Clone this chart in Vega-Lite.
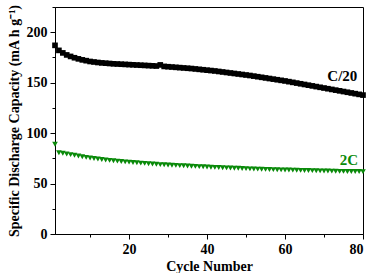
{
  "$schema": "https://vega.github.io/schema/vega-lite/v6.json",
  "width": 308,
  "height": 227,
  "autosize": "none",
  "padding": {"left": 55, "top": 7, "right": 11, "bottom": 39},
  "background": "white",
  "config": {
    "view": {"stroke": "black", "strokeWidth": 1},
    "font": "Liberation Serif",
    "axis": {
      "domainColor": "black",
      "tickColor": "black",
      "labelColor": "black",
      "titleColor": "black",
      "labelFont": "Liberation Serif",
      "titleFont": "Liberation Serif",
      "labelFontWeight": "bold",
      "titleFontWeight": "bold",
      "labelFontSize": 14,
      "titleFontSize": 14,
      "grid": false
    }
  },
  "datasets": {
    "capacity": [
      {"series": "C/20", "cycle": 1, "capacity": 187}, {"series": "C/20", "cycle": 2, "capacity": 182}, {"series": "C/20", "cycle": 3, "capacity": 179.5}, {"series": "C/20", "cycle": 4, "capacity": 177.5}, {"series": "C/20", "cycle": 5, "capacity": 176},
      {"series": "C/20", "cycle": 6, "capacity": 174.7}, {"series": "C/20", "cycle": 7, "capacity": 173.6}, {"series": "C/20", "cycle": 8, "capacity": 172.6}, {"series": "C/20", "cycle": 9, "capacity": 171.8}, {"series": "C/20", "cycle": 10, "capacity": 171},
      {"series": "C/20", "cycle": 11, "capacity": 170.5}, {"series": "C/20", "cycle": 12, "capacity": 170}, {"series": "C/20", "cycle": 13, "capacity": 169.6}, {"series": "C/20", "cycle": 14, "capacity": 169.3}, {"series": "C/20", "cycle": 15, "capacity": 169},
      {"series": "C/20", "cycle": 16, "capacity": 168.7}, {"series": "C/20", "cycle": 17, "capacity": 168.5}, {"series": "C/20", "cycle": 18, "capacity": 168.3}, {"series": "C/20", "cycle": 19, "capacity": 168.1}, {"series": "C/20", "cycle": 20, "capacity": 167.9},
      {"series": "C/20", "cycle": 21, "capacity": 167.7}, {"series": "C/20", "cycle": 22, "capacity": 167.5}, {"series": "C/20", "cycle": 23, "capacity": 167.3}, {"series": "C/20", "cycle": 24, "capacity": 167.1}, {"series": "C/20", "cycle": 25, "capacity": 166.9},
      {"series": "C/20", "cycle": 26, "capacity": 166.7}, {"series": "C/20", "cycle": 27, "capacity": 166.5}, {"series": "C/20", "cycle": 28, "capacity": 167.6}, {"series": "C/20", "cycle": 29, "capacity": 166.1}, {"series": "C/20", "cycle": 30, "capacity": 165.8},
      {"series": "C/20", "cycle": 31, "capacity": 165.5}, {"series": "C/20", "cycle": 32, "capacity": 165.2}, {"series": "C/20", "cycle": 33, "capacity": 164.9}, {"series": "C/20", "cycle": 34, "capacity": 164.6}, {"series": "C/20", "cycle": 35, "capacity": 164.3},
      {"series": "C/20", "cycle": 36, "capacity": 164}, {"series": "C/20", "cycle": 37, "capacity": 163.6}, {"series": "C/20", "cycle": 38, "capacity": 163.2}, {"series": "C/20", "cycle": 39, "capacity": 162.8}, {"series": "C/20", "cycle": 40, "capacity": 162.4},
      {"series": "C/20", "cycle": 41, "capacity": 162}, {"series": "C/20", "cycle": 42, "capacity": 161.6}, {"series": "C/20", "cycle": 43, "capacity": 161.1}, {"series": "C/20", "cycle": 44, "capacity": 160.6}, {"series": "C/20", "cycle": 45, "capacity": 160.1},
      {"series": "C/20", "cycle": 46, "capacity": 159.6}, {"series": "C/20", "cycle": 47, "capacity": 159.1}, {"series": "C/20", "cycle": 48, "capacity": 158.6}, {"series": "C/20", "cycle": 49, "capacity": 158.1}, {"series": "C/20", "cycle": 50, "capacity": 157.6},
      {"series": "C/20", "cycle": 51, "capacity": 157.1}, {"series": "C/20", "cycle": 52, "capacity": 156.5}, {"series": "C/20", "cycle": 53, "capacity": 155.9}, {"series": "C/20", "cycle": 54, "capacity": 155.3}, {"series": "C/20", "cycle": 55, "capacity": 154.7},
      {"series": "C/20", "cycle": 56, "capacity": 154.1}, {"series": "C/20", "cycle": 57, "capacity": 153.5}, {"series": "C/20", "cycle": 58, "capacity": 152.9}, {"series": "C/20", "cycle": 59, "capacity": 152.3}, {"series": "C/20", "cycle": 60, "capacity": 151.7},
      {"series": "C/20", "cycle": 61, "capacity": 151}, {"series": "C/20", "cycle": 62, "capacity": 150.3}, {"series": "C/20", "cycle": 63, "capacity": 149.6}, {"series": "C/20", "cycle": 64, "capacity": 148.9}, {"series": "C/20", "cycle": 65, "capacity": 148.2},
      {"series": "C/20", "cycle": 66, "capacity": 147.5}, {"series": "C/20", "cycle": 67, "capacity": 146.8}, {"series": "C/20", "cycle": 68, "capacity": 146.1}, {"series": "C/20", "cycle": 69, "capacity": 145.4}, {"series": "C/20", "cycle": 70, "capacity": 144.7},
      {"series": "C/20", "cycle": 71, "capacity": 144}, {"series": "C/20", "cycle": 72, "capacity": 143.3}, {"series": "C/20", "cycle": 73, "capacity": 142.6}, {"series": "C/20", "cycle": 74, "capacity": 141.9}, {"series": "C/20", "cycle": 75, "capacity": 141.2},
      {"series": "C/20", "cycle": 76, "capacity": 140.5}, {"series": "C/20", "cycle": 77, "capacity": 139.8}, {"series": "C/20", "cycle": 78, "capacity": 139.1}, {"series": "C/20", "cycle": 79, "capacity": 138.4}, {"series": "C/20", "cycle": 80, "capacity": 137.7},
      {"series": "2C", "cycle": 1, "capacity": 89}, {"series": "2C", "cycle": 2, "capacity": 80.5}, {"series": "2C", "cycle": 3, "capacity": 80}, {"series": "2C", "cycle": 4, "capacity": 79.3}, {"series": "2C", "cycle": 5, "capacity": 78.7},
      {"series": "2C", "cycle": 6, "capacity": 78}, {"series": "2C", "cycle": 7, "capacity": 77.3}, {"series": "2C", "cycle": 8, "capacity": 76.6}, {"series": "2C", "cycle": 9, "capacity": 76}, {"series": "2C", "cycle": 10, "capacity": 75.4},
      {"series": "2C", "cycle": 11, "capacity": 74.9}, {"series": "2C", "cycle": 12, "capacity": 74.4}, {"series": "2C", "cycle": 13, "capacity": 73.9}, {"series": "2C", "cycle": 14, "capacity": 73.4}, {"series": "2C", "cycle": 15, "capacity": 73},
      {"series": "2C", "cycle": 16, "capacity": 72.6}, {"series": "2C", "cycle": 17, "capacity": 72.2}, {"series": "2C", "cycle": 18, "capacity": 71.8}, {"series": "2C", "cycle": 19, "capacity": 71.5}, {"series": "2C", "cycle": 20, "capacity": 71.2},
      {"series": "2C", "cycle": 21, "capacity": 70.9}, {"series": "2C", "cycle": 22, "capacity": 70.6}, {"series": "2C", "cycle": 23, "capacity": 70.3}, {"series": "2C", "cycle": 24, "capacity": 70}, {"series": "2C", "cycle": 25, "capacity": 69.7},
      {"series": "2C", "cycle": 26, "capacity": 69.4}, {"series": "2C", "cycle": 27, "capacity": 69.1}, {"series": "2C", "cycle": 28, "capacity": 68.8}, {"series": "2C", "cycle": 29, "capacity": 68.6}, {"series": "2C", "cycle": 30, "capacity": 68.4},
      {"series": "2C", "cycle": 31, "capacity": 68.2}, {"series": "2C", "cycle": 32, "capacity": 68}, {"series": "2C", "cycle": 33, "capacity": 67.8}, {"series": "2C", "cycle": 34, "capacity": 67.6}, {"series": "2C", "cycle": 35, "capacity": 67.4},
      {"series": "2C", "cycle": 36, "capacity": 67.2}, {"series": "2C", "cycle": 37, "capacity": 67}, {"series": "2C", "cycle": 38, "capacity": 66.8}, {"series": "2C", "cycle": 39, "capacity": 66.6}, {"series": "2C", "cycle": 40, "capacity": 66.4},
      {"series": "2C", "cycle": 41, "capacity": 66.2}, {"series": "2C", "cycle": 42, "capacity": 66}, {"series": "2C", "cycle": 43, "capacity": 65.9}, {"series": "2C", "cycle": 44, "capacity": 65.7}, {"series": "2C", "cycle": 45, "capacity": 65.5},
      {"series": "2C", "cycle": 46, "capacity": 65.4}, {"series": "2C", "cycle": 47, "capacity": 65.2}, {"series": "2C", "cycle": 48, "capacity": 65.1}, {"series": "2C", "cycle": 49, "capacity": 64.9}, {"series": "2C", "cycle": 50, "capacity": 64.8},
      {"series": "2C", "cycle": 51, "capacity": 64.6}, {"series": "2C", "cycle": 52, "capacity": 64.5}, {"series": "2C", "cycle": 53, "capacity": 64.3}, {"series": "2C", "cycle": 54, "capacity": 64.2}, {"series": "2C", "cycle": 55, "capacity": 64.1},
      {"series": "2C", "cycle": 56, "capacity": 64}, {"series": "2C", "cycle": 57, "capacity": 63.8}, {"series": "2C", "cycle": 58, "capacity": 63.7}, {"series": "2C", "cycle": 59, "capacity": 63.6}, {"series": "2C", "cycle": 60, "capacity": 63.5},
      {"series": "2C", "cycle": 61, "capacity": 63.4}, {"series": "2C", "cycle": 62, "capacity": 63.3}, {"series": "2C", "cycle": 63, "capacity": 63.2}, {"series": "2C", "cycle": 64, "capacity": 63.1}, {"series": "2C", "cycle": 65, "capacity": 63},
      {"series": "2C", "cycle": 66, "capacity": 62.9}, {"series": "2C", "cycle": 67, "capacity": 62.8}, {"series": "2C", "cycle": 68, "capacity": 62.7}, {"series": "2C", "cycle": 69, "capacity": 62.6}, {"series": "2C", "cycle": 70, "capacity": 62.5},
      {"series": "2C", "cycle": 71, "capacity": 62.4}, {"series": "2C", "cycle": 72, "capacity": 62.3}, {"series": "2C", "cycle": 73, "capacity": 62.2}, {"series": "2C", "cycle": 74, "capacity": 62.1}, {"series": "2C", "cycle": 75, "capacity": 62.1},
      {"series": "2C", "cycle": 76, "capacity": 62}, {"series": "2C", "cycle": 77, "capacity": 62}, {"series": "2C", "cycle": 78, "capacity": 61.9}, {"series": "2C", "cycle": 79, "capacity": 61.9}, {"series": "2C", "cycle": 80, "capacity": 61.8}
    ],
    "labels": [
      {"series": "C/20", "cycle": 74.7, "capacity": 157},
      {"series": "2C", "cycle": 76.4, "capacity": 73.5}
    ]
  },
  "encoding": {
    "x": {
      "field": "cycle",
      "type": "quantitative",
      "scale": {"domain": [1, 80], "nice": false, "zero": false},
      "axis": {
        "title": "Cycle Number",
        "values": [10, 20, 30, 40, 50, 60, 70, 80],
        "labelExpr": "datum.value % 20 === 0 ? datum.label : ''",
        "tickSize": {"condition": {"test": "datum.value % 20 === 0", "value": 5}, "value": 3},
        "labelPadding": 3,
        "titlePadding": 3
      }
    },
    "y": {
      "field": "capacity",
      "type": "quantitative",
      "scale": {"domain": [0, 225], "nice": false},
      "axis": {
        "title": "Specific Discharge Capacity (mA h g⁻¹)",
        "values": [0, 25, 50, 75, 100, 125, 150, 175, 200, 225],
        "labelExpr": "datum.value % 50 === 0 && datum.value < 225 ? datum.label : ''",
        "tickSize": {"condition": {"test": "datum.value % 50 === 0", "value": 5}, "value": 3},
        "labelPadding": 3,
        "titlePadding": 5
      }
    },
    "color": {
      "field": "series",
      "type": "nominal",
      "scale": {"domain": ["C/20", "2C"], "range": ["#000000", "#0a8a0a"]},
      "legend": null
    }
  },
  "layer": [
    {
      "data": {"name": "capacity"},
      "mark": {"type": "point", "filled": true, "opacity": 1, "size": 32},
      "encoding": {
        "shape": {
          "field": "series",
          "type": "nominal",
          "scale": {"domain": ["C/20", "2C"], "range": ["square", "triangle-down"]},
          "legend": null
        }
      }
    },
    {
      "data": {"name": "labels"},
      "mark": {"type": "text", "font": "Liberation Serif", "fontWeight": "bold", "fontSize": 15, "align": "center", "baseline": "middle"},
      "encoding": {"text": {"field": "series"}}
    }
  ]
}
